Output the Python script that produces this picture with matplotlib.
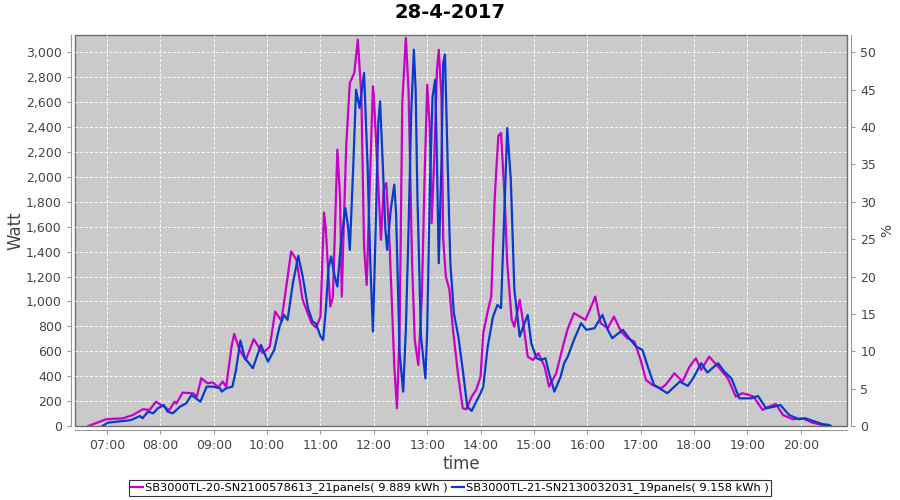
import pandas as pd
import matplotlib
matplotlib.use("Agg")
import matplotlib.pyplot as plt
import matplotlib.dates as mdates
from matplotlib.ticker import FuncFormatter, MultipleLocator

# --------------------------------------------------
# Data
# --------------------------------------------------
DAY = "2017-04-28"
TITLE = "28-4-2017"

LABEL_A = "SB3000TL-20-SN2100578613_21panels( 9.889 kWh )"
TIME_A = ["06:39", "06:59", "07:18", "07:29", "07:40", "07:48", "07:55", "08:10", "08:16", "08:18",
          "08:25", "08:37", "08:41", "08:46", "08:53", "08:59", "09:05", "09:10", "09:14", "09:20",
          "09:23", "09:29", "09:36", "09:45", "09:55", "10:03", "10:09", "10:16", "10:20", "10:27",
          "10:33", "10:40", "10:50", "10:55", "11:00", "11:04", "11:06", "11:11", "11:14", "11:19",
          "11:22", "11:24", "11:26", "11:29", "11:33", "11:38", "11:42", "11:46", "11:49", "11:52",
          "11:55", "11:59", "12:00", "12:05", "12:08", "12:11", "12:14", "12:17", "12:20", "12:23",
          "12:26", "12:29", "12:32", "12:36", "12:39", "12:43", "12:46", "12:50", "12:54", "12:57",
          "13:00", "13:03", "13:05", "13:08", "13:11", "13:13", "13:16", "13:18", "13:21", "13:25",
          "13:29", "13:35", "13:40", "13:44", "13:50", "13:55", "14:00", "14:03", "14:08", "14:12",
          "14:16", "14:20", "14:23", "14:27", "14:30", "14:35", "14:38", "14:44", "14:48", "14:53",
          "14:59", "15:05", "15:12", "15:17", "15:25", "15:33", "15:38", "15:45", "15:58", "16:09",
          "16:15", "16:23", "16:30", "16:38", "16:45", "16:53", "17:00", "17:06", "17:13", "17:23",
          "17:28", "17:38", "17:47", "17:55", "18:02", "18:08", "18:17", "18:27", "18:38", "18:47",
          "18:54", "19:02", "19:07", "19:17", "19:24", "19:32", "19:40", "19:51", "20:02", "20:13",
          "20:24", "20:32"]
WATT_A = [0, 54, 62, 88, 134, 130, 195, 128, 195, 180,
          268, 262, 235, 383, 343, 350, 311, 356, 316, 637,
          739, 611, 530, 697, 584, 637, 919, 846, 1039, 1401,
          1334, 1012, 825, 790, 878, 1714, 1575, 959, 1039, 2218,
          1843, 1039, 1575, 2258, 2754, 2834, 3102, 2646, 1441, 1133,
          1843, 2727, 2646, 1923, 1495, 1897, 1950, 1575, 1039, 477,
          142, 771, 2600, 3116, 2700, 1307, 691, 490, 1039, 1977,
          2740, 2379, 1629, 2164, 2861, 3021, 2646, 1495, 1200, 1093,
          771, 396, 142, 134, 236, 289, 396, 745, 919, 1039,
          1843, 2330, 2352, 1843, 1307, 852, 798, 1012, 825, 557,
          530, 584, 477, 316, 423, 651, 780, 906, 852, 1039,
          825, 785, 878, 758, 705, 677, 530, 370, 330, 303,
          330, 423, 356, 477, 544, 450, 557, 477, 383, 236,
          263, 249, 236, 129, 155, 177, 88, 54, 62, 27,
          8, 0]

LABEL_B = "SB3000TL-21-SN2130032031_19panels( 9.158 kWh )"
TIME_B = ["06:55", "07:01", "07:22", "07:27", "07:37", "07:40", "07:46", "07:52", "07:57", "08:04",
          "08:08", "08:14", "08:22", "08:29", "08:35", "08:40", "08:45", "08:52", "08:59", "09:07",
          "09:09", "09:14", "09:21", "09:25", "09:30", "09:35", "09:44", "09:53", "10:01", "10:08",
          "10:14", "10:19", "10:23", "10:29", "10:35", "10:40", "10:46", "10:51", "10:55", "11:00",
          "11:03", "11:06", "11:09", "11:12", "11:16", "11:19", "11:23", "11:28", "11:31", "11:33",
          "11:37", "11:40", "11:44", "11:49", "11:53", "11:56", "11:59", "12:02", "12:05", "12:07",
          "12:10", "12:13", "12:15", "12:19", "12:23", "12:25", "12:29", "12:33", "12:36", "12:39",
          "12:42", "12:45", "12:47", "12:49", "12:53", "12:58", "13:00", "13:03", "13:06", "13:09",
          "13:11", "13:13", "13:16", "13:18", "13:20", "13:23", "13:26", "13:30", "13:35", "13:40",
          "13:45", "13:50", "13:55", "14:00", "14:03", "14:08", "14:14", "14:19", "14:23", "14:26",
          "14:30", "14:34", "14:38", "14:44", "14:48", "14:53", "14:57", "15:03", "15:08", "15:13",
          "15:17", "15:23", "15:30", "15:34", "15:38", "15:45", "15:53", "15:59", "16:08", "16:17",
          "16:23", "16:28", "16:40", "16:47", "16:55", "17:02", "17:08", "17:15", "17:21", "17:30",
          "17:38", "17:44", "17:53", "17:59", "18:08", "18:15", "18:27", "18:34", "18:42", "18:51",
          "19:04", "19:12", "19:21", "19:30", "19:37", "19:47", "19:58", "20:05", "20:13", "20:24",
          "20:32", "20:34"]
WATT_B = [0, 27, 43, 48, 80, 62, 115, 102, 142, 169,
          115, 102, 155, 182, 249, 222, 195, 316, 316, 303,
          276, 303, 316, 450, 686, 544, 464, 651, 517, 611,
          798, 892, 852, 1147, 1366, 1200, 946, 840, 820, 720,
          691, 932, 1267, 1361, 1200, 1120, 1468, 1749, 1602, 1414,
          2111, 2700, 2553, 2834, 2084, 1307, 758, 1575, 2432, 2606,
          2111, 1575, 1414, 1736, 1937, 1709, 584, 276, 771, 1575,
          2513, 3021, 2700, 1843, 718, 383, 771, 1923, 2646, 2780,
          2111, 1307, 2111, 2915, 2981, 2111, 1307, 906, 718, 450,
          155, 121, 195, 263, 316, 637, 878, 972, 946, 1575,
          2392, 1977, 1093, 718, 798, 892, 664, 544, 530, 544,
          423, 276, 396, 504, 557, 691, 825, 772, 785, 892,
          772, 705, 772, 705, 637, 611, 477, 330, 303, 263,
          316, 356, 322, 383, 504, 429, 504, 437, 383, 222,
          222, 241, 142, 155, 169, 88, 54, 62, 43, 16,
          8, 0]

X_START = "06:24"
X_END = "20:52"
W_MAX = 3139
PCT_PER_WATT = 50 / 3000

COLOR_A = "#c800c8"
COLOR_B = "#0a3acc"


def to_dt(times):
    return pd.to_datetime([f"{DAY} {t}" for t in times])


# --------------------------------------------------
# Figure
# --------------------------------------------------
fig = plt.figure(figsize=(9, 5), dpi=100)
ax = fig.add_axes([75 / 900, 1 - 426 / 500, (847 - 75) / 900, (426 - 35) / 500])

ax.patch.set_facecolor("#cacaca")
ax.patch.set_edgecolor("#6e6e6e")
ax.patch.set_linewidth(1.0)

ax.plot(to_dt(TIME_A), WATT_A, color=COLOR_A, lw=1.6, solid_joinstyle="round", label=LABEL_A, zorder=3)
ax.plot(to_dt(TIME_B), WATT_B, color=COLOR_B, lw=1.6, solid_joinstyle="round", label=LABEL_B, zorder=4)

ax.set_xlim(pd.Timestamp(f"{DAY} {X_START}"), pd.Timestamp(f"{DAY} {X_END}"))
ax.set_ylim(0, W_MAX)

ax.xaxis.set_major_locator(mdates.HourLocator())
ax.xaxis.set_major_formatter(mdates.DateFormatter("%H:%M"))
ax.yaxis.set_major_locator(MultipleLocator(200))
ax.yaxis.set_major_formatter(FuncFormatter(lambda v, _: f"{int(v):,}"))

ax.grid(True, color="white", linestyle=(0, (3, 2)), linewidth=0.7, alpha=0.9)
ax.set_axisbelow(True)

for side in ["left", "bottom"]:
    ax.spines[side].set_position(("outward", 3))
    ax.spines[side].set_color("#999999")
for side in ["top", "right"]:
    ax.spines[side].set_visible(False)

ax.tick_params(axis="both", colors="#999999", labelcolor="#444444", labelsize=9, length=3)

ax.set_ylabel("Watt", fontsize=12, color="#444444", labelpad=1)
ax.set_xlabel("time", fontsize=12, color="#444444", labelpad=2)

# Right axis: percentage
ax2 = ax.twinx()
ax2.set_ylim(0, W_MAX * PCT_PER_WATT)
ax2.yaxis.set_major_locator(MultipleLocator(5))
for side in ["left", "top", "bottom"]:
    ax2.spines[side].set_visible(False)
ax2.spines["right"].set_position(("outward", 3))
ax2.spines["right"].set_color("#999999")
ax2.tick_params(axis="y", colors="#999999", labelcolor="#444444", labelsize=9, length=3)
ax2.set_ylabel("%", fontsize=10, color="#444444", labelpad=3)

fig.suptitle(TITLE, fontsize=14, fontweight="bold", y=0.995)

handles, labels = ax.get_legend_handles_labels()
leg = fig.legend(handles, labels, loc="center", bbox_to_anchor=(0.5, 0.024), ncol=2,
                 fontsize=8.2, frameon=True, fancybox=False, edgecolor="black",
                 handlelength=1.0, handletextpad=0.2, columnspacing=0.4, borderpad=0.25)
leg.get_frame().set_linewidth(0.8)

plt.savefig("out.png", dpi=100)
plt.close()
